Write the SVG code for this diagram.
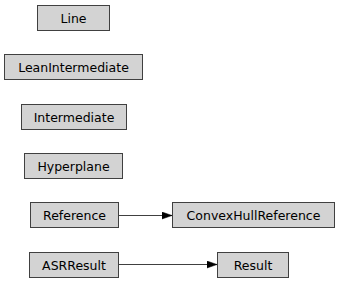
<svg xmlns="http://www.w3.org/2000/svg" width="340" height="283" viewBox="0 0 340 283">
  <style>
    .node rect { fill: #d3d3d3; stroke: #404040; stroke-width: 1; }
    .node text { font-family: "DejaVu Sans", sans-serif; font-size: 12.5px; fill: #000; text-anchor: middle; }
    .edge { stroke: #404040; stroke-width: 1; fill: none; }
  </style>
  <defs>
    <marker id="arrow" markerWidth="10" markerHeight="8" refX="10" refY="4" orient="auto" markerUnits="userSpaceOnUse">
      <path d="M0,0.5 L10,4 L0,7.5 Z" fill="#000" stroke="#000" stroke-width="0.5"/>
    </marker>
  </defs>
  <rect width="340" height="283" fill="#fff"/>

  <g id="connectors">
    <path class="edge" d="M118.5,215.5 H172" marker-end="url(#arrow)"/>
    <path class="edge" d="M118.5,264.5 H217" marker-end="url(#arrow)"/>
  </g>

  <g id="Line" class="node">
    <rect x="37.5" y="5.5" width="72" height="25"/>
    <text x="73.5" y="22.5">Line</text>
  </g>
  <g id="LeanIntermediate" class="node">
    <rect x="4.5" y="54.5" width="138" height="25"/>
    <text x="73.5" y="71.5">LeanIntermediate</text>
  </g>
  <g id="Intermediate" class="node">
    <rect x="21.5" y="104.5" width="105" height="25"/>
    <text x="74" y="121.5">Intermediate</text>
  </g>
  <g id="Hyperplane" class="node">
    <rect x="24.5" y="153.5" width="98" height="25"/>
    <text x="73.5" y="170.5">Hyperplane</text>
  </g>
  <g id="Reference" class="node">
    <rect x="30.5" y="202.5" width="88" height="25"/>
    <text x="74.5" y="219.5">Reference</text>
  </g>
  <g id="ASRResult" class="node">
    <rect x="29.5" y="252.5" width="89" height="25"/>
    <text x="74" y="269.5">ASRResult</text>
  </g>
  <g id="ConvexHullReference" class="node">
    <rect x="172.5" y="202.5" width="162" height="25"/>
    <text x="253.5" y="219.5">ConvexHullReference</text>
  </g>
  <g id="Result" class="node">
    <rect x="217.5" y="252.5" width="71" height="25"/>
    <text x="253" y="269.5">Result</text>
  </g>
</svg>
